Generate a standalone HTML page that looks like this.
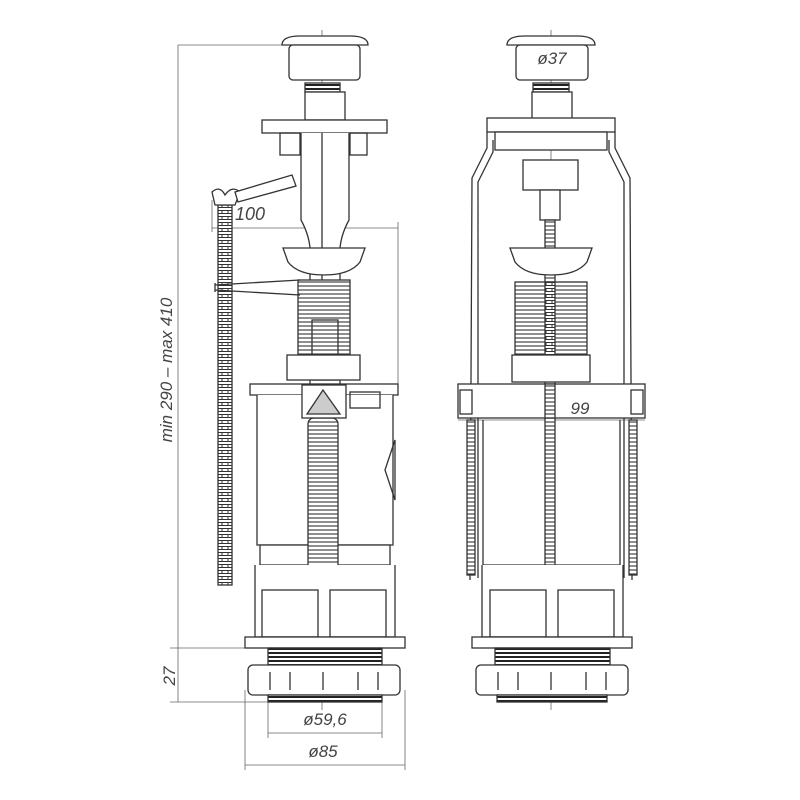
<!DOCTYPE html>
<html><head><meta charset="utf-8"><style>
html,body{margin:0;padding:0;background:#fff;width:800px;height:800px;overflow:hidden}
svg{display:block}
text{font-family:"Liberation Sans",sans-serif;font-style:italic;fill:#444}
</style></head><body>
<svg width="800" height="800" viewBox="0 0 800 800" xmlns="http://www.w3.org/2000/svg">
<defs>
<pattern id="rib" width="6" height="6" patternUnits="userSpaceOnUse"><rect width="6" height="6" fill="#fff"/><rect y="0.5" width="6" height="3" fill="#fff" stroke="#333" stroke-width="1"/></pattern>
<pattern id="rib2" width="8" height="8" patternUnits="userSpaceOnUse"><rect width="8" height="8" fill="#fff"/><rect x="-1" y="2" width="10" height="4" fill="#fff" stroke="#333" stroke-width="1.1"/></pattern>
<pattern id="thr" width="4" height="4" patternUnits="userSpaceOnUse"><rect width="4" height="4" fill="#fff"/><rect width="4" height="2" fill="#222"/></pattern>
</defs>
<g fill="none" stroke="#333" stroke-width="1.3">
<g stroke="#666" stroke-width="0.8">
<line x1="178" y1="45" x2="178" y2="648"/><line x1="178" y1="45" x2="285" y2="45"/>
<line x1="178" y1="648" x2="178" y2="702"/><line x1="170" y1="648" x2="250" y2="648"/><line x1="170" y1="702" x2="270" y2="702"/>
<line x1="212" y1="228" x2="398" y2="228"/><line x1="398" y1="222" x2="398" y2="388"/><line x1="212" y1="200" x2="212" y2="232"/>
<line x1="268" y1="702" x2="268" y2="738"/><line x1="382" y1="702" x2="382" y2="738"/><line x1="268" y1="733" x2="382" y2="733"/>
<line x1="245" y1="690" x2="245" y2="770"/><line x1="405" y1="690" x2="405" y2="770"/><line x1="245" y1="765" x2="405" y2="765"/>
<line x1="322" y1="30" x2="322" y2="710"/><line x1="551" y1="30" x2="551" y2="710"/>
<line x1="458" y1="420" x2="645" y2="420"/><line x1="518" y1="72" x2="588" y2="72"/>
</g>
<path d="M282,45 Q282,36 300,36 L350,36 Q368,36 368,45 Z" fill="#fff"/>
<rect x="289" y="45" width="71" height="35" rx="4" fill="#fff"/>
<rect x="305" y="83" width="35" height="9" fill="url(#thr)"/>
<rect x="305" y="92" width="40" height="28" fill="#fff"/>
<rect x="262" y="120" width="125" height="13" fill="#fff"/>
<rect x="280" y="133" width="20" height="22"/><rect x="350" y="133" width="17" height="22"/>
<path d="M301,133 L301,220 Q312,240 310,260 L310,580 L340,580 L340,260 Q338,240 349,220 L349,133" fill="#fff"/>
<line x1="322" y1="133" x2="322" y2="320"/>
<path d="M283,248 L365,248 L360,262 Q350,275 324,275 Q298,275 288,262 Z" fill="#fff"/>
<rect x="298" y="280" width="52" height="78" fill="url(#rib2)"/>
<rect x="312" y="320" width="26" height="60" fill="url(#rib2)"/>
<rect x="287" y="355" width="73" height="25" fill="#fff"/>
<rect x="218" y="205" width="14" height="380" fill="url(#rib)"/>
<path d="M212,192 Q220,185 225,195 Q232,185 240,192 L235,205 L215,205 Z" fill="#fff"/>
<path d="M235,192 L292,175 L296,186 L238,202 Z" fill="#fff"/>
<path d="M215,285 L300,280 M215,290 L300,295 M215,283 L215,292"/>
<rect x="250" y="384" width="148" height="11" fill="#fff"/>
<path d="M257,395 L257,545 L393,545 L393,395" fill="#fff"/>
<rect x="260" y="545" width="130" height="20" fill="#fff"/>
<rect x="308" y="418" width="30" height="165" rx="6" fill="url(#rib2)"/>
<rect x="302" y="385" width="44" height="33" fill="#fff"/>
<path d="M323,390 L307,414 L340,414 Z" fill="#ccc"/>
<rect x="350" y="392" width="30" height="16"/>
<path d="M385,470 L395,440 L395,500 Z"/>
<path d="M255,565 L255,637 L395,637 L395,565" fill="#fff"/>
<rect x="262" y="590" width="56" height="47"/><rect x="330" y="590" width="56" height="47"/>
<rect x="245" y="637" width="160" height="11" fill="#fff"/>
<rect x="268" y="648" width="114" height="17" fill="url(#thr)"/>
<rect x="248" y="665" width="152" height="30" rx="5" fill="#fff"/>
<path d="M270,672 v18 M290,672 v18 M323,672 v18 M358,672 v18 M378,672 v18"/>
<rect x="268" y="695" width="114" height="7" fill="url(#thr)"/>
<path d="M507,45 Q507,36 525,36 L577,36 Q595,36 595,45 Z" fill="#fff"/>
<rect x="516" y="45" width="72" height="35" rx="4" fill="#fff"/>
<rect x="533" y="83" width="36" height="9" fill="url(#thr)"/>
<rect x="532" y="92" width="40" height="28" fill="#fff"/>
<rect x="487" y="118" width="128" height="14" fill="#fff"/>
<rect x="495" y="132" width="112" height="18" fill="#fff"/>
<path d="M487,132 L487,148 L472,178 L470,580 M615,132 L615,148 L630,178 L632,580"/>
<path d="M493,140 L493,152 L478,182 L478,578 M609,140 L609,152 L624,182 L624,578"/>
<rect x="523" y="160" width="55" height="30" fill="#fff"/>
<rect x="540" y="190" width="20" height="30" fill="#fff"/>
<rect x="545" y="220" width="10" height="365" fill="url(#rib2)"/>
<path d="M510,248 L592,248 L587,262 Q577,275 551,275 Q525,275 515,262 Z" fill="#fff"/>
<rect x="515" y="282" width="72" height="76" fill="url(#rib2)"/>
<rect x="545" y="282" width="10" height="76" fill="url(#rib)"/>
<rect x="512" y="355" width="78" height="27" fill="#fff"/>
<rect x="458" y="384" width="187" height="34" fill="#fff"/>
<rect x="460" y="390" width="12" height="24"/><rect x="631" y="390" width="12" height="24"/>
<rect x="545" y="384" width="10" height="34" fill="url(#rib2)"/>
<rect x="467" y="420" width="8" height="155" fill="url(#rib2)"/><rect x="629" y="420" width="8" height="155" fill="url(#rib2)"/>
<path d="M483,420 L483,565 L620,565 L620,420"/>
<path d="M482,565 L482,637 L623,637 L623,565" fill="#fff"/>
<rect x="490" y="590" width="56" height="47"/><rect x="558" y="590" width="56" height="47"/>
<rect x="472" y="637" width="160" height="11" fill="#fff"/>
<rect x="495" y="648" width="115" height="17" fill="url(#thr)"/>
<rect x="476" y="665" width="152" height="30" rx="5" fill="#fff"/>
<path d="M498,672 v18 M518,672 v18 M551,672 v18 M586,672 v18 M606,672 v18"/>
<rect x="497" y="695" width="110" height="7" fill="url(#thr)"/>
</g>
<text x="0" y="0" font-size="17" transform="translate(172,370) rotate(-90)" text-anchor="middle">min 290 – max 410</text>
<text x="0" y="0" font-size="17" transform="translate(175,676) rotate(-90)" text-anchor="middle">27</text>
<text x="250" y="220" font-size="18" text-anchor="middle">100</text>
<text x="325" y="725" font-size="17" text-anchor="middle">ø59,6</text>
<text x="323" y="757" font-size="17" text-anchor="middle">ø85</text>
<text x="552" y="64" font-size="17" text-anchor="middle">ø37</text>
<text x="580" y="414" font-size="17" text-anchor="middle">99</text>
</svg>
</body></html>
